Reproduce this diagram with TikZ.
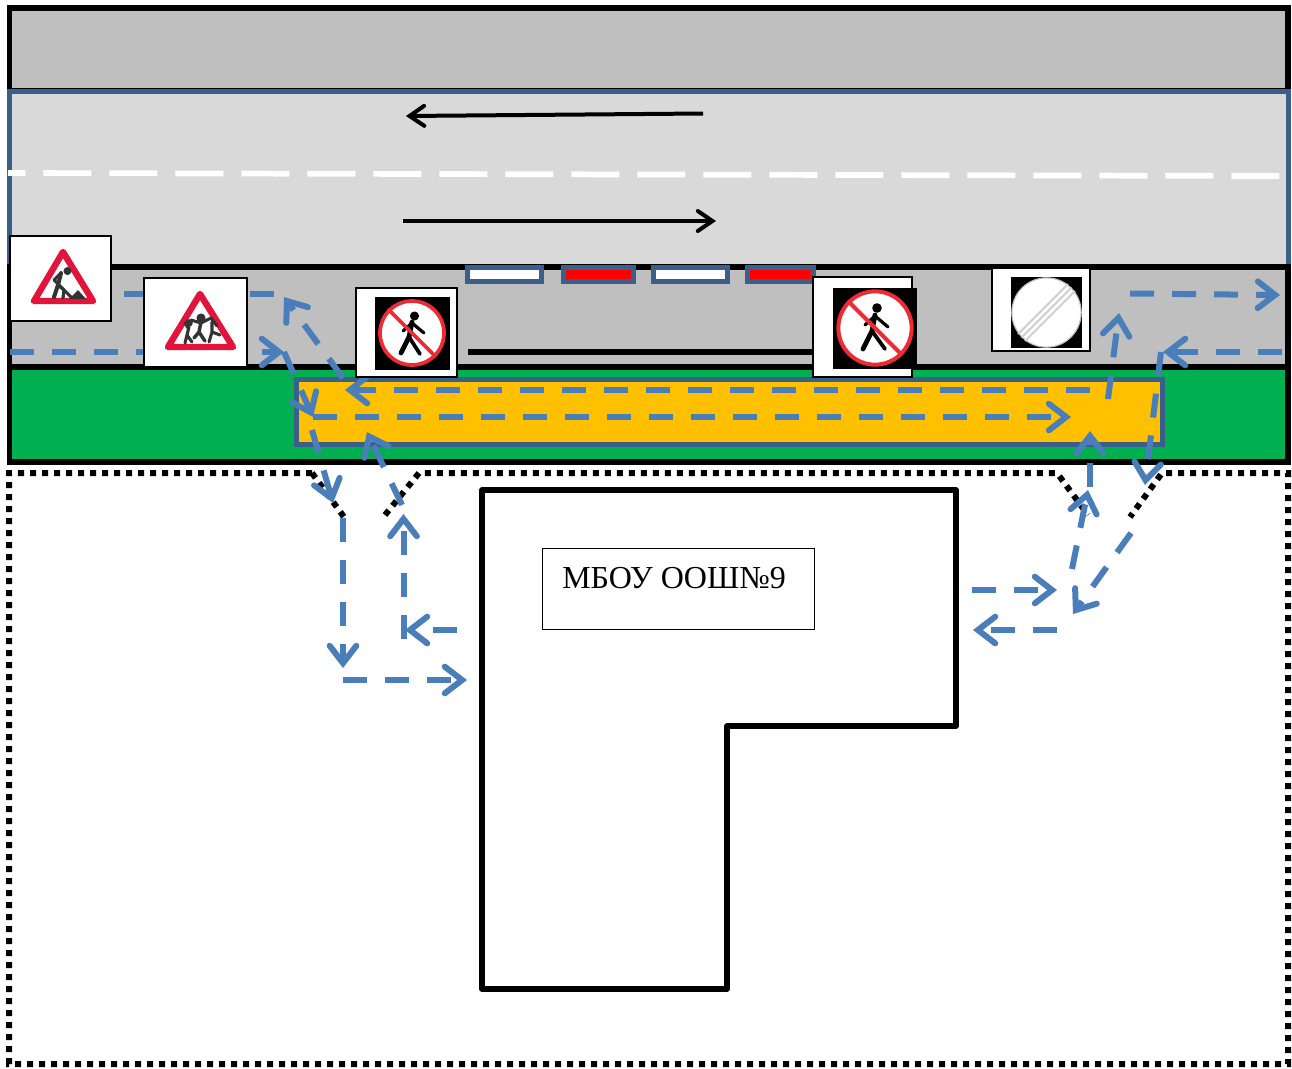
\documentclass[tikz,border=0pt]{standalone}
\usepackage{fontspec}
\setmainfont{Liberation Serif}
\usetikzlibrary{arrows.meta}
\definecolor{roadgray}{HTML}{D9D9D9}
\definecolor{walkgray}{HTML}{BFBFBF}
\definecolor{lawn}{HTML}{00B050}
\definecolor{amber}{HTML}{FFC000}
\definecolor{steel}{HTML}{3A5F8B}
\definecolor{route}{HTML}{4A7EBB}
\definecolor{signred}{HTML}{E2143C}
\definecolor{ringred}{HTML}{EE2B33}
\tikzset{
  outline/.style={draw=black,line width=4.2pt,line join=miter},
  stopbar/.style={draw=steel,line width=3.75pt},
  fence/.style={draw=black,line width=4.5pt,dash pattern=on 4.5pt off 4.5pt},
  flow/.style={draw=route,line width=4.5pt,dash pattern=on 18pt off 13.5pt,
    -{Straight Barb[line cap=round,line join=miter,length=13pt,width=20pt]}},
  flowplain/.style={draw=route,line width=4.5pt,dash pattern=on 18pt off 13.5pt},
  traffic/.style={draw=black,line width=3pt,-{Straight Barb[line cap=round,line join=miter,length=11pt,width=15pt]}},
  plate/.style={draw=black,fill=white,line width=0.9pt},
  warn/.style={draw=signred,fill=white,line width=4.8pt,line join=round},
  figure/.style={draw=black!80,line width=2.3pt,line cap=round,line join=round}
}
\begin{document}
\begin{tikzpicture}[x=0.75pt,y=-0.75pt]
\useasboundingbox (0,0) rectangle (1292,1068);
% carriageway and strips
\fill[white] (0,0) rectangle (1292,1068);
\path[outline,fill=walkgray] (9.5,8) rectangle (1288,91);
\path[draw=steel,line width=3.75pt,fill=roadgray] (9.5,91) rectangle (1288,267);
\coordinate (cl1) at (8,173);
\coordinate (cl2) at (1280,176);
\draw[white,line width=4.3pt,dash pattern=on 36pt off 13.5pt,dash phase=23pt] (cl1) -- (cl2);
\path[outline,fill=walkgray] (9.5,267) rectangle (1288,367);
\path[outline,fill=lawn] (9.5,367) rectangle (1288,462);
\path[draw=steel,line width=3.75pt,fill=amber] (296,379) rectangle (1162,444);
% stop bars
\path[stopbar,fill=white] (467.5,267.5) rectangle (541.5,281.5);
\path[stopbar,fill=red] (563.5,267.5) rectangle (633.5,281.5);
\path[stopbar,fill=white] (653.5,267.5) rectangle (727.5,281.5);
\path[stopbar,fill=red] (747.5,267.5) rectangle (813.5,281.5);
% kerb line
\coordinate (kerbA) at (468,351.5);
\coordinate (kerbB) at (816,351.5);
\draw[black,line width=4.5pt] (kerbA) -- (kerbB);
% traffic arrows
\coordinate (tA1) at (703,113.5);
\coordinate (tA2) at (406,116);
\coordinate (tB1) at (403,221);
\coordinate (tB2) at (716,221);
\draw[traffic] (tA1) -- (tA2);
\draw[traffic] (tB1) -- (tB2);
% fence
\draw[fence] (312,473) -- (9,473) -- (9,1064) -- (1288,1064) -- (1288,473) -- (1162,473) -- (1130,517);
\draw[fence] (385,515) -- (419,473) -- (1057,473) -- (1088,515);
\draw[fence] (312,473) -- (344,517);
% building
\node[draw=black,line width=0.75pt,minimum width=204pt,minimum height=61pt,inner sep=0pt,fill=white,anchor=north west] (label) at (541.5,548) {};
\path[outline,line join=round] (482,490) -- (956,490) -- (956,726) -- (727,726) -- (727,989) -- (482,989) -- cycle;
\node[font=\fontsize{24pt}{28pt}\selectfont,anchor=base west,inner sep=0pt] (labeltext) at (562,588) {МБОУ ООШ№9};
% routes
\coordinate (a1) at (124,294);
\coordinate (a2) at (284,294);
\coordinate (a3) at (343,378);
\coordinate (a4) at (284,297);
\coordinate (b1) at (10,352);
\coordinate (b2) at (284,352);
\coordinate (b3) at (313,417);
\coordinate (b4) at (1071,417);
\coordinate (b5) at (312,430);
\coordinate (b6) at (333,503);
\coordinate (c1) at (343,518);
\coordinate (c2) at (343,668);
\coordinate (c3) at (343,680);
\coordinate (c4) at (467,680);
\coordinate (d1) at (457,630);
\coordinate (d2) at (405,630);
\coordinate (d3) at (403.5,639);
\coordinate (d4) at (403.5,514);
\coordinate (d5) at (402,505);
\coordinate (d6) at (367,432);
\coordinate (e1) at (972,590);
\coordinate (e2) at (1057,590);
\coordinate (e3) at (1057,630);
\coordinate (e4) at (973,630);
\coordinate (f1) at (1072,569);
\coordinate (f2) at (1088,490);
\coordinate (f3) at (1090,487);
\coordinate (f4) at (1090,431);
\coordinate (g1) at (1090,390);
\coordinate (g2) at (345,390);
\coordinate (h1) at (1108,399);
\coordinate (h2) at (1119,313);
\coordinate (i1) at (1130,293.5);
\coordinate (i2) at (1280,295);
\coordinate (j1) at (1282,352);
\coordinate (j2) at (1163,352);
\coordinate (k1) at (1161,352);
\coordinate (k2) at (1145,485);
\coordinate (l1) at (1131,533);
\coordinate (l2) at (1073,614);
\draw[flowplain] (a1) -- (a2);
\draw[flow] (a3) -- (a4);
\draw[flow] (b1) -- (b2);
\draw[flow] (b2) -- (b3);
\draw[flow] (b3) -- (b4);
\draw[flow] (b5) -- (b6);
\draw[flow] (c1) -- (c2);
\draw[flow] (c3) -- (c4);
\draw[flow] (d1) -- (d2);
\draw[flow] (d3) -- (d4);
\draw[flow] (d5) -- (d6);
\draw[flow] (e1) -- (e2);
\draw[flow] (e3) -- (e4);
\draw[flow] (f1) -- (f2);
\draw[flow] (f3) -- (f4);
\draw[flow] (g1) -- (g2);
\draw[flow] (h1) -- (h2);
\draw[flow] (i1) -- (i2);
\draw[flow] (j1) -- (j2);
\draw[flow] (k1) -- (k2);
\draw[flow] (l1) -- (l2);
% sign 1: road works
\path[plate] (10,236) rectangle (111,321);
\path[warn] (63,252) -- (93,301) -- (34,301) -- cycle;
\draw[figure,fill=black!80] (67.5,271) circle (1.8pt);
\draw[figure,line width=3pt] (61,273) -- (58,285) -- (54,297);
\draw[figure,line width=2.4pt] (58,285) -- (64,290) -- (63,298);
\draw[figure] (60,274) -- (54,280) -- (60,286) -- (71,297);
\fill[black!80] (69,299) -- (78,290) -- (86,299) -- cycle;
% sign 2: children
\path[plate] (144,278) rectangle (247,367);
\path[warn] (200,294) -- (233,347) -- (168,347) -- cycle;
\draw[figure,fill=black!80] (201,318) circle (2.2pt);
\draw[figure,line width=2.6pt] (201,322) -- (199,332) -- (194,338) (199,332) -- (205,341);
\draw[figure] (201,323) -- (211,318) -- (217,326) (201,323) -- (191,320);
\draw[figure,fill=black!80] (189,323) circle (1.7pt);
\draw[figure] (189,327) -- (187,335) -- (185,343) (187,335) -- (192,342) (188,328) -- (185,323);
\draw[figure] (212,322) -- (212,332) -- (209,342) (212,332) -- (220,335);
% sign 3: no pedestrians
\path[plate] (356,288) rectangle (457,377);
\fill[black] (375,297) rectangle (450,370);
\node[circle,fill=white,draw=ringred,line width=2.8pt,minimum size=48pt,inner sep=0pt] (ped1) at (412,333) {};
\draw[figure,draw=black,fill=black] (414.5,316) circle (2.2pt);
\draw[figure,draw=black,line width=3.6pt] (412,322) -- (409,337) -- (401,353);
\draw[figure,draw=black,line width=2.8pt] (409,337) -- (420,354);
\draw[figure,draw=black,line width=2.4pt] (412,323) -- (403,331) (412,323) -- (424,333);
\draw[ringred,line width=2.8pt] (ped1.135) -- (ped1.315);
% sign 4: no pedestrians
\path[plate] (813,277) rectangle (912,377);
\fill[black] (833,288) rectangle (917,369);
\node[circle,fill=white,draw=ringred,line width=3pt,minimum size=55pt,inner sep=0pt] (ped2) at (875,328) {};
\draw[figure,draw=black,fill=black] (877,308) circle (2.4pt);
\draw[figure,draw=black,line width=3.6pt] (875,315) -- (872,331) -- (863,349);
\draw[figure,draw=black,line width=2.8pt] (872,331) -- (885,349);
\draw[figure,draw=black,line width=2.4pt] (875,316) -- (865,325) (875,316) -- (888,327);
\draw[ringred,line width=3pt] (ped2.135) -- (ped2.315);
% sign 5: end of restrictions
\path[plate] (992,268) rectangle (1090,351);
\fill[black] (1011,277) rectangle (1082,348);
\node[circle,fill=white,draw=black!25,line width=0.9pt,minimum size=52pt,inner sep=0pt] (endsign) at (1046.5,312.5) {};
\draw[black!18,line width=1.6pt] ([shift={(-3.5,-3.5)}]endsign.225) -- ([shift={(-3.5,-3.5)}]endsign.45);
\draw[black!18,line width=1.6pt] (endsign.225) -- (endsign.45);
\draw[black!18,line width=1.6pt] ([shift={(3.5,3.5)}]endsign.225) -- ([shift={(3.5,3.5)}]endsign.45);
\end{tikzpicture}
\end{document}
